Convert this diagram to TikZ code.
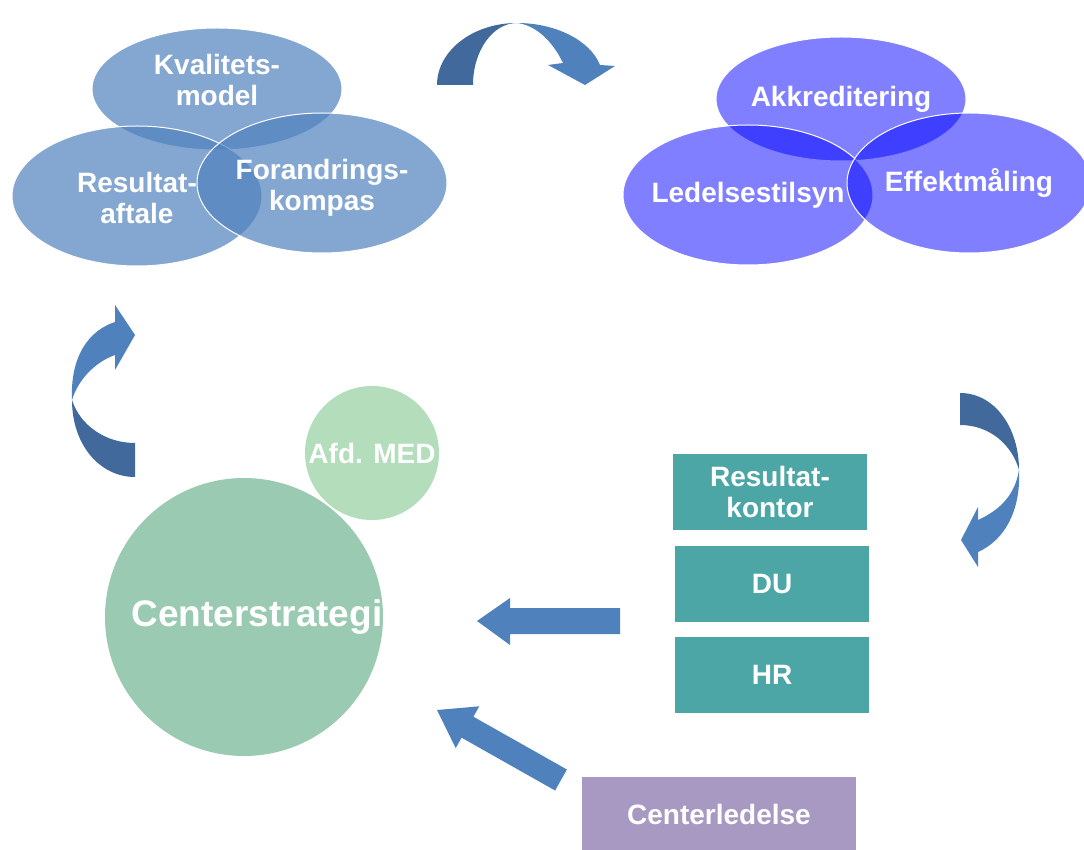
\documentclass[tikz,border=0pt]{standalone}
\usepackage{fontspec}
\setmainfont{Liberation Sans}
\usetikzlibrary{shapes.geometric,positioning}
\definecolor{qblue}{HTML}{4F81BD}
\definecolor{qdark}{HTML}{41699B}
\definecolor{akblue}{HTML}{0000FF}
\definecolor{teal}{HTML}{4BA6A5}
\definecolor{lav}{HTML}{A899C2}
\definecolor{grbig}{HTML}{9ACAB2}
\definecolor{grsmall}{HTML}{B3DDBB}
\newcommand{\zw}[1]{\makebox[0pt]{#1}}
\newcommand{\twoline}[3]{\makebox[0pt]{\smash{\raisebox{#1}{\begin{tabular}{@{}c@{}}#2\\#3\end{tabular}}}}}
\tikzset{
  lbl/.style={text=white,align=center,font=\bfseries\fontsize{28}{31}\selectfont},
  qell/.style={lbl,ellipse,fill=qblue,fill opacity=0.7,text opacity=1,draw=white,line width=1pt,inner sep=0pt,minimum width=250pt,minimum height=140pt},
  aell/.style={qell,fill=akblue,fill opacity=0.5},
  tbox/.style={lbl,rectangle,fill=teal,inner sep=0pt,minimum width=194pt,minimum height=76pt},
  circ/.style={lbl,circle,inner sep=0pt},
}
\begin{document}
\begin{tikzpicture}[x=1pt,y=-1pt]
\useasboundingbox (0,0) rectangle (1084,850);
% quality tools
\node[qell,minimum height=122pt] (kval) at (217,89) {\twoline{-1pt}{Kvalitets-}{model}};
\node[qell] (resa) at (137,196) {\twoline{-12pt}{Resultat-}{aftale}};
\node[qell] (foran) at (322,183) {\twoline{-12pt}{Forandrings-}{kompas}};
% control
\node[aell,minimum height=124pt] (akk) at (841,99) {\zw{Akkreditering}};
\node[aell] (led) at (748,195) {\zw{Ledelsestilsyn}};
\node[aell,minimum width=244pt] (eff) at (969,183) {\zw{Effektmåling}};
% strategy
\node[circ,fill=grsmall,minimum size=134pt] (med) at (372,453) {Afd. MED};
\node[circ,fill=grbig,minimum size=278pt,font=\bfseries\fontsize{37}{40}\selectfont] (cs) at (244,617) {\hspace*{26pt}Centerstrategi};
% staff units
\node[tbox] (rk) at (770,492) {Resultat-\\kontor};
\node[tbox,below=16pt of rk.south east,anchor=north east,xshift=2pt] (du) {DU};
\node[tbox,below=14pt of du] (hr) {HR};
\node[tbox,fill=lav,minimum width=274pt,minimum height=80pt,text depth=0pt] (cl) at (719,817) {\raisebox{5pt}{Centerledelse}};
% block arrows
\fill[qblue] (620,608) -- (510,608) -- (510,598) -- (477,621) -- (510,645) -- (510,634) -- (620,634) -- cycle;
\fill[qblue] (566.9,769.5) -- (473.4,716.7) -- (479.3,706.3) -- (437,710) -- (455.7,748.1) -- (461.6,737.7) -- (555.1,790.5) -- cycle;
% curved arrows
\fill[qdark] (437,85) .. controls (437,50.8) and (472.8,23) .. (517,23)
  .. controls (492.7,23) and (473,50.8) .. (473,85) -- cycle;
\fill[qblue] (517,23) .. controls (555,23) and (590,40) .. (600,65) -- (615,66) -- (585,85)
  -- (548,65) -- (563,63) .. controls (552,40) and (535,25) .. (517,23) -- cycle;
\fill[qdark] (135,443) -- (135,477) .. controls (100,477) and (72,445) .. (72,400)
  .. controls (80,425) and (105,443) .. (135,443) -- cycle;
\fill[qblue] (72,400) .. controls (70,355) and (90,330) .. (115,322) -- (115,305) -- (135,335)
  -- (115,370) -- (115,355) .. controls (95,362) and (78,380) .. (72,400) -- cycle;
\fill[qdark] (960,393) .. controls (995,393) and (1019,428) .. (1019,470)
  .. controls (1012,445) and (990,425) .. (960,425) -- cycle;
\fill[qblue] (1019,470) .. controls (1021,510) and (1005,540) .. (978,552) -- (978,567) -- (961,540)
  -- (978,507) -- (978,520) .. controls (1000,510) and (1015,495) .. (1019,470) -- cycle;
\end{tikzpicture}
\end{document}
